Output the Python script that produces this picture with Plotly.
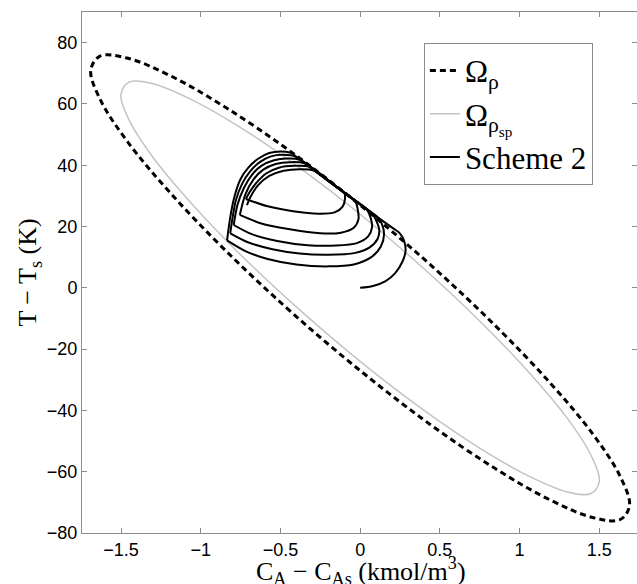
import plotly.graph_objects as go

# Outer level set Omega_rho
outer_x = [0, -0.437, -0.845, -1.195, -1.464, -1.632, -1.690, -1.632, -1.464, -1.195, -0.845, -0.437,
           0, 0.437, 0.845, 1.195, 1.464, 1.632, 1.690, 1.632, 1.464, 1.195, 0.845, 0.437, 0]
outer_y = [-27.0, -7.7, 12.2, 31.2, 48.0, 61.6, 71.0, 75.6, 75.0, 69.3, 58.9, 44.5,
           27.0, 7.7, -12.2, -31.2, -48.0, -61.6, -71.0, -75.6, -75.0, -69.3, -58.9, -44.5, -27.0]

# Inner level set Omega_rho_sp
inner_x = [0, -0.388, -0.750, -1.061, -1.300, -1.449, -1.501, -1.449, -1.300, -1.061, -0.750, -0.388,
           0, 0.388, 0.750, 1.061, 1.300, 1.449, 1.501, 1.449, 1.300, 1.061, 0.750, 0.388, 0]
inner_y = [-24.0, -6.8, 10.8, 27.7, 42.6, 54.7, 63.0, 67.1, 66.6, 61.5, 52.3, 39.5,
           24.0, 6.8, -10.8, -27.7, -42.6, -54.7, -63.0, -67.1, -66.6, -61.5, -52.3, -39.5, -24.0]

# Scheme 2 closed-loop trajectory, split at the sharp corners
traj_segments = [
    [(0, 0), (0.08, 0.6), (0.16, 2.2), (0.22, 4.8), (0.265, 8.5), (0.285, 12.0), (0.275, 15.5),
     (0.245, 18.0), (0.21, 19.3), (0.1, 23.4), (-0.1, 31.0), (-0.3, 38.7), (-0.44, 44.1),
     (-0.50, 44.5), (-0.57, 44.0), (-0.64, 42.1), (-0.70, 39.3), (-0.75, 35.5), (-0.79, 29.5),
     (-0.815, 23.0), (-0.835, 15.5)],
    [(-0.835, 15.5), (-0.72, 12.0), (-0.58, 9.4), (-0.40, 7.6), (-0.20, 7.0), (-0.04, 7.6),
     (0.07, 10.0), (0.13, 13.5), (0.15, 17.5), (0.135, 21.0), (0.11, 23.0), (0.0, 27.2),
     (-0.2, 34.9), (-0.41, 42.9), (-0.48, 43.4), (-0.56, 42.9), (-0.63, 41.0), (-0.69, 38.0),
     (-0.74, 34.0), (-0.78, 28.5), (-0.80, 23.0), (-0.815, 17.8)],
    [(-0.815, 17.8), (-0.70, 14.8), (-0.55, 12.6), (-0.38, 11.2), (-0.20, 10.8), (-0.03, 11.4),
     (0.06, 13.2), (0.11, 16.0), (0.12, 19.0), (0.10, 22.0), (0.075, 24.3), (-0.1, 31.0),
     (-0.38, 41.8), (-0.46, 42.2), (-0.54, 41.6), (-0.62, 39.8), (-0.68, 36.8), (-0.73, 32.5),
     (-0.77, 27.0), (-0.793, 20.5)],
    [(-0.793, 20.5), (-0.68, 17.5), (-0.52, 15.3), (-0.33, 13.9), (-0.15, 13.8), (-0.02, 14.6),
     (0.05, 16.8), (0.075, 19.8), (0.065, 23.0), (0.04, 25.7), (-0.1, 31.0), (-0.35, 40.6),
     (-0.44, 41.0), (-0.53, 40.4), (-0.61, 38.5), (-0.67, 35.3), (-0.72, 30.5), (-0.755, 23.8)],
    [(-0.755, 23.8), (-0.62, 21.0), (-0.45, 19.2), (-0.25, 17.8), (-0.12, 18.0), (-0.04, 19.6),
     (-0.01, 22.5), (-0.015, 25.5), (-0.03, 28.3), (-0.15, 33.0), (-0.32, 39.5), (-0.41, 39.8),
     (-0.51, 39.2), (-0.59, 37.3), (-0.65, 34.3), (-0.69, 31.5), (-0.717, 29.0)],
    [(-0.717, 29.0), (-0.58, 26.6), (-0.42, 25.0), (-0.26, 24.2), (-0.16, 24.6), (-0.11, 26.5),
     (-0.095, 29.0), (-0.1, 31.0), (-0.2, 34.9), (-0.29, 38.3), (-0.38, 38.7), (-0.48, 38.2),
     (-0.57, 36.5), (-0.64, 33.5), (-0.69, 29.5), (-0.71, 27.0)],
]

x_ticks = [-1.5, -1, -0.5, 0, 0.5, 1, 1.5]
x_ticklabels = ["−1.5", "−1", "−0.5", "0", "0.5", "1", "1.5"]
y_ticks = [-80, -60, -40, -20, 0, 20, 40, 60, 80]

traj_x, traj_y = [], []
for seg in traj_segments:
    traj_x += [p[0] for p in seg] + [None]
    traj_y += [p[1] for p in seg] + [None]

fig = go.Figure()
fig.add_trace(go.Scatter(x=outer_x, y=outer_y, mode="lines", name="Ω<sub>ρ</sub>",
                         line=dict(color="black", width=3, dash="6px,4px", shape="spline", smoothing=1)))
fig.add_trace(go.Scatter(x=inner_x, y=inner_y, mode="lines", name="Ω<sub>ρ<sub>sp</sub></sub>",
                         line=dict(color="#c4c4c4", width=1.5, shape="spline", smoothing=1)))
fig.add_trace(go.Scatter(x=traj_x, y=traj_y, mode="lines", name="Scheme 2", connectgaps=False,
                         line=dict(color="black", width=2, shape="spline", smoothing=0.8)))

serif = "Liberation Serif, Times New Roman, serif"
axis_common = dict(showgrid=False, zeroline=False, showline=True, linecolor="#8c8c8c", linewidth=1,
                   mirror="all", ticks="inside", ticklen=5, tickcolor="#8c8c8c",
                   tickfont=dict(family="Liberation Sans, Arial", size=18, color="black"))

fig.update_layout(
    width=637, height=584,
    margin=dict(l=82, r=0, t=12, b=51),
    paper_bgcolor="white", plot_bgcolor="white",
    showlegend=True,
    legend=dict(x=0.616, y=0.941, xanchor="left", yanchor="top",
                bgcolor="white", bordercolor="#8c8c8c", borderwidth=1,
                font=dict(family=serif, size=31, color="black"),
                itemwidth=30, tracegroupgap=0),
    xaxis=dict(range=[-1.745, 1.737], tickvals=x_ticks, ticktext=x_ticklabels,
               **axis_common),
    yaxis=dict(range=[-80, 90], tickvals=y_ticks,
               title=dict(text="T − T<sub>s</sub> (K)",
                          font=dict(family=serif, size=26, color="black"),
                          standoff=2),
               **axis_common),
    annotations=[dict(text="C<sub>A</sub> − C<sub>As</sub> (kmol/m<sup>3</sup>)",
                      xref="paper", yref="paper", x=0.502, y=-0.035,
                      xanchor="center", yanchor="top", showarrow=False,
                      font=dict(family=serif, size=26, color="black"))],
)

fig.write_html("out.html")
